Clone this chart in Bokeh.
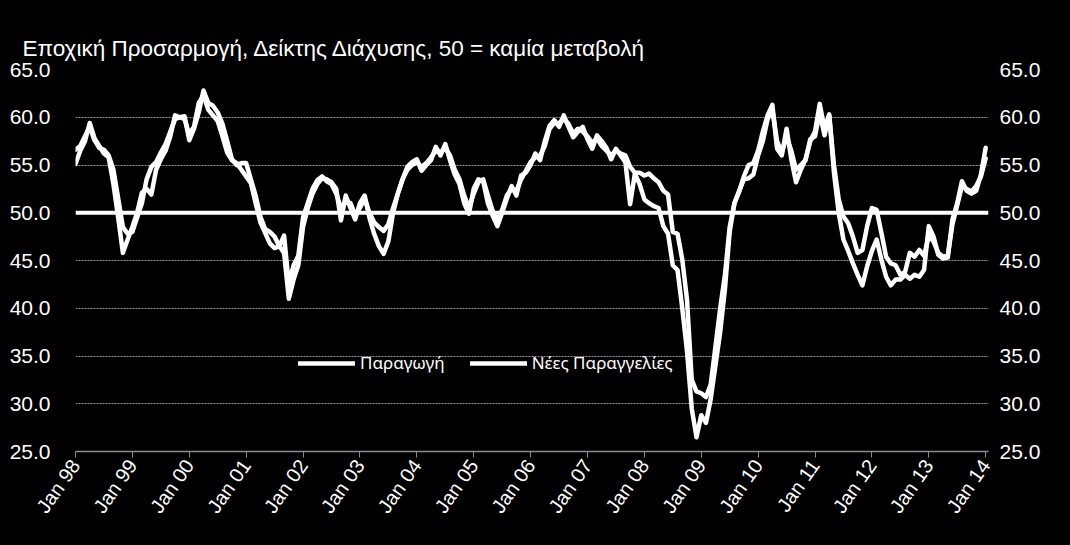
import math
from bokeh.plotting import figure
from bokeh.models import (Range1d, LinearAxis, Span, Legend, LegendItem, Title,
                          FixedTicker, NumeralTickFormatter)
from bokeh.embed import file_html
from bokeh.resources import INLINE

# ---------------- data ----------------
title_text = "Εποχική Προσαρμογή, Δείκτης Διάχυσης, 50 = καμία μεταβολή"
series_names = ["Παραγωγή", "Νέες Παραγγελίες"]
start_year = 1998  # first month: Jan 98, monthly data

tick_years = list(range(1998, 2015))
tick_labels = ["Jan 98", "Jan 99", "Jan 00", "Jan 01", "Jan 02", "Jan 03",
               "Jan 04", "Jan 05", "Jan 06", "Jan 07", "Jan 08", "Jan 09",
               "Jan 10", "Jan 11", "Jan 12", "Jan 13", "Jan 14"]
y_ticks = [25, 30, 35, 40, 45, 50, 55, 60, 65]

production = [
    56.6, 57.0, 58.0, 59.0, 57.6, 56.8, 56.6, 56.0, 54.5, 51.5, 48.5, 47.8,  # 1998
    48.0, 49.5, 51.0, 53.5, 54.8, 55.3, 56.3, 57.2, 58.5, 59.8, 60.0, 59.8,  # 1999
    58.2, 59.0, 61.5, 62.3, 60.8, 60.2, 59.6, 58.0, 56.3, 55.5, 55.2, 54.5,  # 2000
    53.8, 53.1, 51.0, 49.0, 47.9, 46.8, 46.3, 46.5, 47.6, 42.5, 44.5, 45.5,  # 2001
    49.5, 51.0, 52.5, 53.4, 53.8, 53.3, 53.0, 52.0, 50.5, 51.2, 51.0, 49.8,  # 2002
    50.5, 51.5, 50.0, 49.0, 48.5, 48.1, 48.8, 50.5, 52.0, 53.5, 54.5, 55.0,  # 2003
    55.3, 54.8, 55.2, 55.8, 56.5, 56.3, 56.8, 56.0, 54.5, 53.5, 51.8, 50.5,  # 2004
    52.0, 53.2, 53.5, 51.8, 50.2, 49.2, 50.3, 51.8, 52.5, 52.3, 53.5, 54.4,  # 2005
    55.3, 55.8, 56.0, 57.0, 58.8, 59.4, 59.4, 59.8, 59.3, 58.3, 58.8, 58.5,  # 2006
    58.0, 57.3, 57.8, 57.0, 56.5, 56.0, 56.5, 56.2, 56.0, 54.8, 54.2, 54.2,  # 2007
    53.9, 54.1, 53.6, 53.2, 52.3, 51.9, 48.0, 47.8, 45.1, 40.9, 32.5, 31.3,  # 2008
    31.1, 30.7, 32.0, 36.0, 40.0, 43.5, 48.5, 51.0, 52.3, 53.5, 53.6, 54.0,  # 2009
    56.0, 57.5, 59.8, 60.8, 57.5, 56.3, 58.0, 56.5, 54.5, 55.0, 55.5, 57.7,  # 2010
    58.0, 60.5, 58.1, 60.2, 55.0, 51.4, 49.6, 48.9, 47.5, 45.8, 46.1, 48.6,  # 2011
    50.5, 50.3, 47.9, 45.4, 44.7, 44.5, 43.5, 43.8, 45.8, 45.4, 46.1, 45.5,  # 2012
    47.6, 47.0, 45.8, 45.4, 45.5, 48.8, 50.8, 52.8, 52.5, 52.2, 52.8, 53.8,  # 2013
    55.7,                                                                    # Jan 2014
]

new_orders = [
    55.1, 56.5, 57.5, 59.4, 57.8, 57.0, 56.2, 55.8, 53.0, 49.5, 45.8, 47.2,  # 1998
    48.5, 50.0, 52.1, 52.5, 51.9, 54.5, 55.6, 56.5, 58.0, 60.2, 60.0, 60.1,  # 1999
    57.6, 58.8, 60.5, 62.8, 61.5, 61.2, 60.5, 59.3, 57.5, 55.6, 55.0, 55.2,  # 2000
    55.2, 53.5, 51.8, 49.6, 48.3, 48.0, 47.5, 46.5, 45.8, 41.0, 43.0, 44.5,  # 2001
    48.5, 50.5, 52.0, 53.0, 53.6, 53.5, 53.2, 52.5, 49.2, 51.8, 50.5, 49.3,  # 2002
    51.0, 51.8, 49.5, 47.8, 46.5, 45.7, 47.0, 50.0, 52.0, 53.5, 54.8, 55.3,  # 2003
    55.6, 54.4, 55.0, 55.5, 56.9, 56.0, 57.2, 55.5, 54.0, 53.0, 51.0, 49.9,  # 2004
    52.5, 53.5, 53.3, 51.0, 49.7, 48.6, 50.0, 51.5, 52.8, 51.8, 53.9, 54.2,  # 2005
    55.0, 56.2, 55.5, 57.5, 59.1, 59.7, 59.0, 60.2, 59.0, 57.9, 58.5, 59.0,  # 2006
    57.7, 56.7, 58.1, 57.5, 56.8, 55.6, 56.7, 56.0, 55.3, 50.9, 54.1, 53.0,  # 2007
    51.4, 51.0, 50.7, 50.5, 48.6, 47.8, 44.5, 44.0, 40.0, 35.5, 29.5, 26.5,  # 2008
    28.8, 28.0, 30.5, 34.0, 37.5, 42.0, 48.0, 51.0, 52.2, 53.8, 55.0, 55.2,  # 2009
    56.5, 58.5, 60.2, 61.3, 56.7, 56.0, 58.8, 55.6, 53.2, 54.5, 55.6, 57.5,  # 2010
    58.5, 61.4, 58.8, 60.3, 54.2, 50.0, 47.2, 46.0, 44.7, 43.5, 42.4, 44.4,  # 2011
    46.0, 47.2, 45.1, 43.3, 42.4, 43.0, 43.0, 43.5, 43.1, 43.5, 43.3, 44.0,  # 2012
    48.6, 47.5, 45.6, 45.2, 45.3, 49.3, 51.0, 53.3, 52.3, 52.0, 52.3, 54.0,  # 2013
    56.8,                                                                    # Jan 2014
]

reference_level = 50

# ---------------- figure ----------------
months = [start_year + i / 12.0 for i in range(len(production))]

FONT = "Liberation Sans"
p = figure(width=1054, height=529,
           x_range=Range1d(1998, 2014.05), y_range=Range1d(25, 65),
           output_backend="svg", toolbar_location=None,
           background_fill_color="#000000", border_fill_color="#000000",
           outline_line_color=None,
           min_border_left=75, min_border_right=66,
           min_border_top=69, min_border_bottom=78)

p.title = Title(text=title_text, align="left", offset=-53,
                text_color="#ffffff", text_font=FONT,
                text_font_size="22.5px", text_font_style="normal", standoff=18)

def style_y(ax, standoff):
    ax.ticker = FixedTicker(ticks=y_ticks)
    ax.formatter = NumeralTickFormatter(format="0.0")
    ax.axis_line_color = None
    ax.major_tick_line_color = None
    ax.minor_tick_line_color = None
    ax.major_label_text_color = "#ffffff"
    ax.major_label_text_font = FONT
    ax.major_label_text_font_size = "21px"
    ax.major_label_standoff = standoff

style_y(p.yaxis[0], 19)
right_axis = LinearAxis()
style_y(right_axis, 5)
p.add_layout(right_axis, "right")

xa = p.xaxis[0]
xa.ticker = FixedTicker(ticks=tick_years)
xa.major_label_overrides = {y: lbl for y, lbl in zip(tick_years, tick_labels)}
xa.major_label_orientation = math.radians(55)
xa.axis_line_color = "#8c8c8c"
xa.axis_line_width = 1.5
xa.major_tick_line_color = "#8c8c8c"
xa.major_tick_out = 6
xa.major_tick_in = 0
xa.minor_tick_line_color = None
xa.major_label_text_color = "#ffffff"
xa.major_label_text_font = FONT
xa.major_label_text_font_size = "20px"
xa.major_label_standoff = 4

p.xgrid.grid_line_color = None
p.ygrid.ticker = FixedTicker(ticks=y_ticks)
p.ygrid.grid_line_color = "#9a9a9a"
p.ygrid.grid_line_dash = "2 1"
p.ygrid.grid_line_width = 1

p.add_layout(Span(location=reference_level, dimension="width",
                  line_color="#ffffff", line_width=4))

r_prod = p.line(months, production, line_color="#ffffff", line_width=4.5,
                line_join="round", line_cap="round")
r_new = p.line(months, new_orders, line_color="#ffffff", line_width=4.5,
               line_join="round", line_cap="round")

legend = Legend(items=[LegendItem(label=series_names[0], renderers=[r_prod]),
                       LegendItem(label=series_names[1], renderers=[r_new])],
                orientation="horizontal", location=(223, 77),
                background_fill_alpha=0, border_line_color=None,
                label_text_color="#ffffff", label_text_font="Noto Sans",
                label_text_font_size="17px", glyph_width=57, glyph_height=20,
                label_standoff=5, spacing=25, padding=0, margin=0)
p.add_layout(legend)

html = file_html(p, INLINE, title="chart")
html = html.replace("</head>", "<style>html,body{background:#000000;}</style></head>", 1)
open("out.html", "w").write(html)
